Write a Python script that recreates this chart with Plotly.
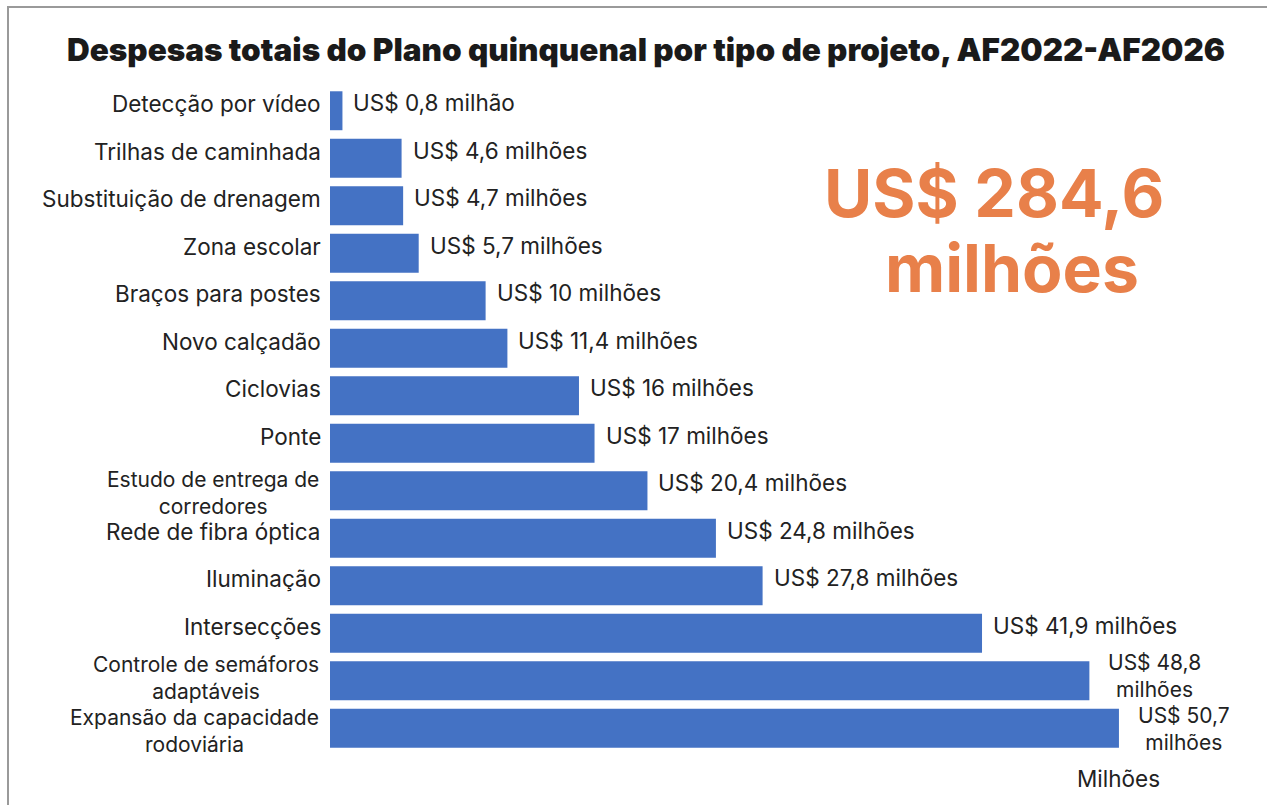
import plotly.graph_objects as go

# Spending by project type, in millions of US$
projects = [
    "Detecção por vídeo",
    "Trilhas de caminhada",
    "Substituição de drenagem",
    "Zona escolar",
    "Braços para postes",
    "Novo calçadão",
    "Ciclovias",
    "Ponte",
    "Estudo de entrega de<br>corredores",
    "Rede de fibra óptica",
    "Iluminação",
    "Intersecções",
    "Controle de semáforos<br>adaptáveis",
    "Expansão da capacidade<br>rodoviária",
]
values = [0.8, 4.6, 4.7, 5.7, 10, 11.4, 16, 17, 20.4, 24.8, 27.8, 41.9, 48.8, 50.7]
value_labels = [
    "US$ 0,8 milhão",
    "US$ 4,6 milhões",
    "US$ 4,7 milhões",
    "US$ 5,7 milhões",
    "US$ 10 milhões",
    "US$ 11,4 milhões",
    "US$ 16 milhões",
    "US$ 17 milhões",
    "US$ 20,4 milhões",
    "US$ 24,8 milhões",
    "US$ 27,8 milhões",
    "US$ 41,9 milhões",
    "US$ 48,8<br>milhões",
    "US$ 50,7<br>milhões",
]
total_lines = ["US$ 284,6", "milhões"]
title_text = "Despesas totais do Plano quinquenal por tipo de projeto, AF2022-AF2026"
axis_title = "Milhões"

W, H = 1267, 805
ML, MR, MT, MB = 330, 22, 87, 53
PW, PH = W - ML - MR, H - MT - MB
XMAX = 58.8

BAR_COLOR = "#4472C4"
TEXT_COLOR = "#222222"
ACCENT = "#E8804A"
FONT = "Inter"
LABEL_SIZE = 22.5
WRAPPED_SIZE = 21


def px_x(px):
    return (px - ML) / PW


def px_y(py):
    return 1 - (py - MT) / PH


fig = go.Figure(
    go.Bar(
        x=values,
        y=list(range(len(projects))),
        orientation="h",
        marker=dict(color=BAR_COLOR, line=dict(width=0)),
        width=0.82,
        hoverinfo="skip",
    )
)


def wrapped_shift(texts, i, base):
    """Nudge neighbouring two-line labels apart so they do not collide."""
    up = i + 1 < len(texts) and "<br>" in texts[i + 1]
    down = i > 0 and "<br>" in texts[i - 1]
    if up and not down:
        return base + 3
    if down and not up:
        return base - 3
    return base - 2


def add_label(x, y, text, anchor, xshift, yshift):
    wrapped = "<br>" in text
    fig.add_annotation(
        x=x, y=y, xref="x", yref="y",
        text=text, showarrow=False,
        xanchor=anchor, yanchor="middle", align="center",
        xshift=xshift, yshift=yshift,
        borderpad=0,
        font=dict(family=FONT, size=WRAPPED_SIZE if wrapped else LABEL_SIZE,
                  color=TEXT_COLOR),
    )


# category labels to the left of the bars
for i, name in enumerate(projects):
    if "<br>" in name:
        add_label(0, i, name, "right", -10, wrapped_shift(projects, i, 0))
    else:
        add_label(0, i, name, "right", -8, 7)

# value labels at the end of each bar
for i, (v, lab) in enumerate(zip(values, value_labels)):
    if "<br>" in lab:
        add_label(v, i, lab, "left", 18, wrapped_shift(value_labels, i, 2))
    else:
        add_label(v, i, lab, "left", 10, 8)

# headline total
fig.add_annotation(
    x=px_x(994), y=px_y(193), xref="paper", yref="paper",
    text=f"<b>{total_lines[0]}</b>", showarrow=False,
    xanchor="center", yanchor="middle",
    font=dict(family=FONT, size=66, color=ACCENT),
)
fig.add_annotation(
    x=px_x(1012), y=px_y(268), xref="paper", yref="paper",
    text=f"<b>{total_lines[1]}</b>", showarrow=False,
    xanchor="center", yanchor="middle",
    font=dict(family=FONT, size=66, color=ACCENT),
)

# axis unit label
fig.add_annotation(
    x=px_x(1118), y=px_y(778), xref="paper", yref="paper",
    text=axis_title, showarrow=False,
    xanchor="center", yanchor="middle",
    font=dict(family=FONT, size=LABEL_SIZE, color=TEXT_COLOR),
)

# frame around the card
fig.add_shape(
    type="rect", xref="paper", yref="paper",
    x0=px_x(8), x1=px_x(W + 20), y0=px_y(H + 20), y1=px_y(7),
    line=dict(color="#9a9a9a", width=2), fillcolor="rgba(0,0,0,0)",
    layer="below",
)

fig.update_layout(
    width=W, height=H,
    margin=dict(l=ML, r=MR, t=MT, b=MB),
    paper_bgcolor="white", plot_bgcolor="white",
    showlegend=False,
    title=dict(
        text=title_text,
        x=646 / W, xanchor="center", xref="container",
        y=1 - 50 / H, yanchor="middle", yref="container",
        font=dict(family=FONT, size=31.5, color="#1a1a1a", weight=900),
    ),
    xaxis=dict(range=[0, XMAX], visible=False, fixedrange=True),
    yaxis=dict(range=[len(projects) - 0.5, -0.5], visible=False, fixedrange=True),
)

fig.write_html("out.html")
